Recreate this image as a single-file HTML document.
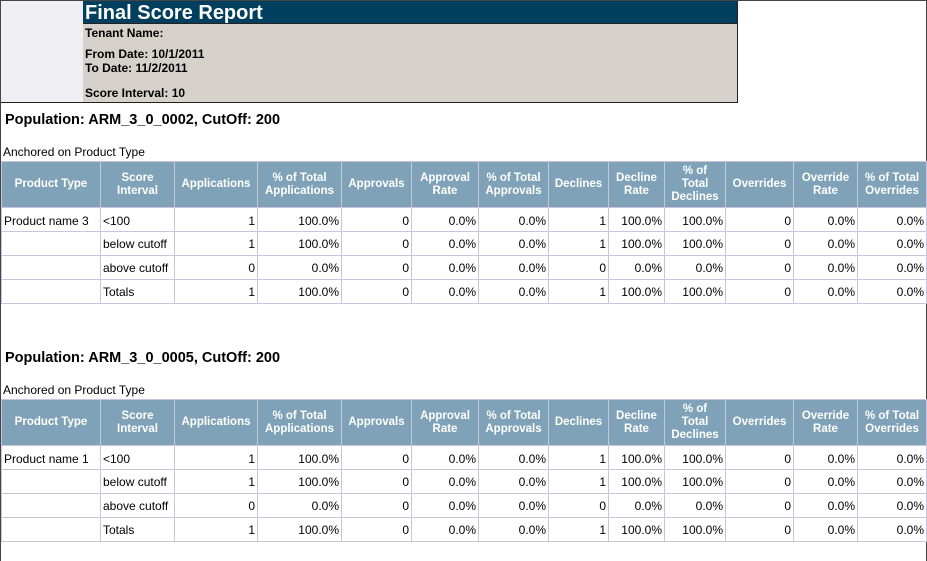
<!DOCTYPE html>
<html><head><meta charset="utf-8">
<style>
body{margin:0;width:927px;height:542px;overflow:hidden;background:#fff;font-family:"Liberation Sans",Arial,sans-serif;position:relative}
.frame{position:absolute;left:0;top:0;width:925px;height:560px;border:1px solid #444;border-bottom:none}
.logo{position:absolute;left:1px;top:1px;width:82px;height:101px;background:#eeeef3;border-right:1px solid #222;border-bottom:1px solid #222}
.hdr{position:absolute;left:83px;top:1px;width:654px;height:101px;background:#d6d2cb;border-right:1px solid #222;border-bottom:1px solid #222}
.title{height:22px;background:#003f5e;color:#fff;font-weight:bold;font-size:20px;line-height:25px;padding-left:2px;border-bottom:1px solid #222}
.hl{position:absolute;left:2px;font-size:12px;font-weight:bold;color:#000}
.pop{position:absolute;left:5px;font-size:14.5px;font-weight:bold}
.anch{position:absolute;left:3px;font-size:12px}
table{position:absolute;left:1px;border-collapse:collapse;table-layout:fixed;font-size:12px}
th{background:#7fa2b8;color:#fff;font-size:11.5px;font-weight:bold;border:1px solid #c9c5dc;height:45px;padding:0;line-height:13px}
td{border:1px solid #c9c5dc;height:23px;padding:0 2px;text-align:right;white-space:nowrap}
tr.first td{height:20px;padding-top:3px}
td.l{text-align:left}
</style></head><body>
<div class="frame"></div>
<div class="logo"></div>
<div class="hdr">
<div class="title">Final Score Report</div>
<div class="hl" style="top:25px">Tenant Name:</div>
<div class="hl" style="top:46px">From Date: 10/1/2011</div>
<div class="hl" style="top:60px">To Date: 11/2/2011</div>
<div class="hl" style="top:85px">Score Interval: 10</div>
</div>
<div id="content"></div>
<script>
const cols=["Product Type","Score<br>Interval","Applications","% of Total<br>Applications","Approvals","Approval<br>Rate","% of Total<br>Approvals","Declines","Decline<br>Rate","% of<br>Total<br>Declines","Overrides","Override<br>Rate","% of Total<br>Overrides"];
const widths=[99,74,83,84,70,67,70,60,56,61,68,64,69];
const intervals=["<100","below cutoff","above cutoff","Totals"];
const applications=[1,1,0,1];
const pctApps=["100.0%","100.0%","0.0%","100.0%"];
const approvals=[0,0,0,0];
const declines=[1,1,0,1];
const declineRate=["100.0%","100.0%","0.0%","100.0%"];
const pctDeclines=["100.0%","100.0%","0.0%","100.0%"];
const overrides=[0,0,0,0];
const populations=[{name:"ARM_3_0_0002",product:"Product name 3",top:112},{name:"ARM_3_0_0005",product:"Product name 1",top:350}];
const c=document.getElementById('content');
populations.forEach((p,pi)=>{
  const h=document.createElement('div');h.className='pop';h.style.top=p.top+'px';
  
  
  h.textContent='Population: '+p.name+', CutOff: 200';c.appendChild(h);
  const a=document.createElement('div');a.className='anch';a.style.top=(p.top+33)+'px';
  
  
  a.textContent='Anchored on Product Type';c.appendChild(a);
  const t=document.createElement('table');t.style.top=(p.top+49)+'px';
  
  
  let cg='<colgroup>'+widths.map(w=>'<col style="width:'+w+'px">').join('')+'</colgroup>';
  let html=cg+'<tr>'+cols.map(x=>'<th>'+x+'</th>').join('')+'</tr>';
  for(let i=0;i<4;i++){
    const vals=[i==0?p.product:'',intervals[i].replace('<','&lt;'),applications[i],pctApps[i],approvals[i],'0.0%','0.0%',declines[i],declineRate[i],pctDeclines[i],overrides[i],'0.0%','0.0%'];
    html+='<tr'+(i==0?' class="first"':'')+'>'+vals.map((v,j)=>'<td'+(j<2?' class="l"':'')+'>'+v+'</td>').join('')+'</tr>';
  }
  t.innerHTML=html;c.appendChild(t);
});
</script>
</body></html>
